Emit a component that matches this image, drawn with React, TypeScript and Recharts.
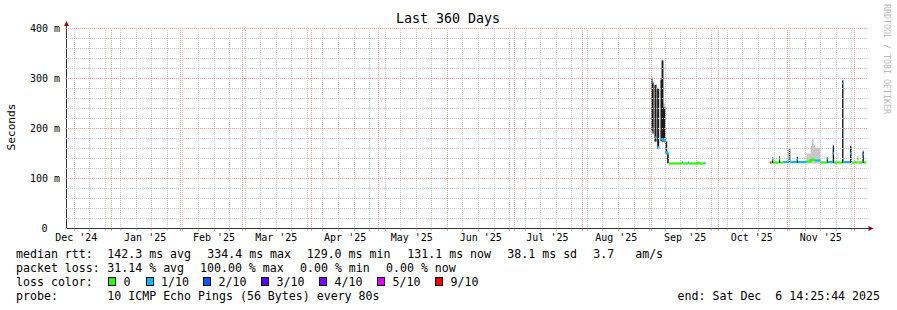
import React from 'react';
import { ComposedChart, Area, Line, XAxis, YAxis, ReferenceLine, ReferenceDot } from 'recharts';

const W = 897;
const H = 310;
const MONO = '"DejaVu Sans Mono", monospace';

// x axis in days since 2025-01-01 00:00, window = last 360 days
const rangeStart = -20.399; // Wed Dec 11 2024 14:25:44
const rangeEnd = 339.601; // Sat Dec  6 2025 14:25:44

const monthStarts = [0, 31, 59, 90, 120, 151, 181, 212, 243, 273, 304, 334];
const monthLabelDays = [-16, 15, 46, 74, 105, 135, 166, 196, 227, 258, 288, 319];
const monthLabels = ["Dec '24", "Jan '25", "Feb '25", "Mar '25", "Apr '25", "May '25", "Jun '25", "Jul '25", "Aug '25", "Sep '25", "Oct '25", "Nov '25"];
const firstSunday = -17;

const yTicks = [0, 20, 40, 60, 80, 100, 120, 140, 160, 180, 200, 220, 240, 260, 280, 300, 320, 340, 360, 380, 400];
const yMajor = [0, 100, 200, 300, 400];
const yMajorLabels = ['0', '100 m', '200 m', '300 m', '400 m'];

// rtt in ms, stepped samples (null = no data)
const days = [
  242.8, 243.3, 243.8, 244.2, 245.1, 245.4, 246.3, 246.9, 247.4, 248.2, 249.1, 249.9, 250.6, 256.6, 257.1, 259.2, 259.7, 263.5, 264.4, 266.7,
  267.1, 267.2,
  296.1, 296.6, 297.1, 297.6, 300.2, 300.7, 302.2, 304.6, 305.3, 308.2, 308.8, 312.6, 314.5, 315.0, 315.8, 316.5, 318.9, 321.7, 322.2, 324.4,
  325.0, 328.6, 329.2, 332.2, 332.9, 335.5, 336.0, 337.8, 338.4, 339.6,
];
const medianRtt = [
  292, 200, null, 182, null, 163, null, 178, 178, 177, 153, 150, 130, 132, 130, 132, 130, 131, 130, 131,
  130, null,
  132, 132, 138, 132, 140, 132, 133, 140, 133, 138, 133, 134, 137, 138, 137, 136, 132, 140, 133, 150,
  132, 290, 133, 150, 132, 140, 132, 148, 132, 132,
];
const lossCount = [
  1, 1, 0, 1, 0, 1, 0, 1, 1, 1, 1, 1, 0, 1, 0, 1, 0, 0, 0, 1,
  0, 0,
  9, 0, 1, 0, 0, 0, 1, 1, 1, 1, 1, 0, 0, 0, 0, 1, 0, 0, 1, 1,
  0, 1, 1, 1, 0, 0, 0, 1, 0, 0,
];
const smokeLow = [
  190, 186, null, 172, null, 158, null, 172, 172, 172, 148, 129, 128, 128, 128, 128, 128, 128, 128, 128,
  128, null,
  130, 130, 130, 130, 130, 130, 130, 130, 130, 130, 130, 130, 130, 130, 130, 130, 130, 130, 130, 130,
  130, 130, 130, 130, 130, 130, 130, 130, 130, 130,
];
const smokeHigh = [
  304, 294, null, 289, null, 282, null, 300, 338, 250, 176, 152, 132, 133, 132, 133, 132, 135, 132, 133,
  132, null,
  134, 134, 143, 134, 145, 134, 135, 160, 135, 144, 135, 150, 165, 178, 168, 162, 134, 143, 135, 168,
  134, 298, 135, 167, 134, 146, 134, 156, 134, 134,
];
const darkLow = [
  195, 190, null, 174, null, 160, null, 175, 174, 174, 150, 131, null, null, null, null, null, null, null, null,
  null, null,
  null, null, 131, null, 131, null, null, 131, null, 131, null, null, null, null, null, null, null, 131, null, 131,
  null, 131, null, 131, null, null, null, 131, null, null,
];
const darkHigh = [
  300, 292, null, 287, null, 280, null, 298, 336, 242, 174, 150, null, null, null, null, null, null, null, null,
  null, null,
  null, null, 142, null, 144, null, null, 158, null, 143, null, null, null, null, null, null, null, 142, null, 166,
  null, 296, null, 165, null, null, null, 154, null, null,
];

const lossColors: Record<number, string> = {
  0: '#26ff00', 1: '#00b8ff', 2: '#0059ff', 3: '#5e00ff', 4: '#7e00ff', 5: '#dd00ff', 9: '#ff0000',
};
const lossKeys = [0, 1, 2, 3, 4, 5, 9];
const lossLegend = ['0', '1/10', '2/10', '3/10', '4/10', '5/10', '9/10'];

const rttStats = ['142.3 ms avg', '334.4 ms max', '129.0 ms min', '131.1 ms now', '38.1 ms sd', '3.7   am/s'];
const lossStats = ['31.14 % avg', '100.00 % max', '0.00 % min', '0.00 % now'];
const probeText = '10 ICMP Echo Pings (56 Bytes) every 80s';
const endText = 'end: Sat Dec  6 14:25:44 2025';

const rttStatX = [107.3, 207.3, 306.7, 407.3, 507.3, 593.3];
const lossStatX = [107.3, 200, 300, 386];
const lossBoxX = [108.5, 146, 203.5, 261.5, 319.5, 377.5, 435.5];

const AXIS = '#333';
const ARROW = '#8b1010';
const GRID = '#c8c8c8';
const MGRID = '#f49a9a';

function pair(lo: number | null, hi: number | null) {
  return lo == null || hi == null ? null : [lo, hi];
}

function buildRows() {
  const rows: Record<string, any>[] = [];
  const empty = () => {
    const r: Record<string, any> = {};
    lossKeys.forEach((k) => (r['m' + k] = null));
    return r;
  };
  const closing = (d: number, i: number) => {
    const a = empty();
    a.d = d;
    a['m' + lossCount[i - 1]] = medianRtt[i - 1];
    a.smoke = pair(smokeLow[i - 1], smokeHigh[i - 1]);
    a.dark = pair(darkLow[i - 1], darkHigh[i - 1]);
    return a;
  };
  days.forEach((d, i) => {
    const smoke = pair(smokeLow[i], smokeHigh[i]);
    const dark = pair(darkLow[i], darkHigh[i]);
    const prev = i > 0 ? medianRtt[i - 1] : null;
    const cur = medianRtt[i];
    if (prev != null && cur != null && (lossCount[i] !== lossCount[i - 1] || Math.abs(cur - prev) > 4)) {
      // close the previous step, then break the median line
      rows.push(closing(d, i));
      const n = empty();
      n.d = d;
      n.smoke = smoke;
      n.dark = dark;
      rows.push(n);
    } else if (prev != null && cur == null) {
      rows.push(closing(d, i));
    }
    const r = empty();
    r.d = d;
    r.smoke = smoke;
    r.dark = dark;
    if (cur != null) r['m' + lossCount[i]] = cur;
    rows.push(r);
  });
  return rows;
}

const rows = buildRows();
const weekLines = Array.from({ length: 51 }, (_, k) => firstSunday + 7 * k);
const markTicks = [...weekLines, ...monthStarts].sort((a, b) => a - b);
const minorY = yTicks.filter((v) => !yMajor.includes(v));

function MarkTick(p: any) {
  const major = monthStarts.includes(p.payload.value);
  return (
    <line x1={p.x} x2={p.x} y1={p.y} y2={p.y + 2} stroke={major ? MGRID : GRID} shapeRendering="crispEdges" />
  );
}

function LabelTick(p: any) {
  const idx = monthLabelDays.indexOf(p.payload.value);
  return (
    <text x={p.x} y={p.y + 7.5} textAnchor="middle" fontFamily={MONO} fontSize={10} fill="#000" style={{ whiteSpace: 'pre' }}>
      {monthLabels[idx]}
    </text>
  );
}

function YTick(p: any) {
  const v = p.payload.value;
  const mi = yMajor.indexOf(v);
  return (
    <g>
      <line x1={p.x - 2} x2={p.x} y1={p.y} y2={p.y} stroke={mi >= 0 ? MGRID : GRID} shapeRendering="crispEdges" />
      {mi >= 0 && (
        <text x={v === 0 ? p.x - 19 : p.x - 6.5} y={p.y + 3.5} textAnchor="end" fontFamily={MONO} fontSize={10} fill="#000">
          {yMajorLabels[mi]}
        </text>
      )}
    </g>
  );
}

function UpArrow(p: any) {
  return (
    <g>
      <line x1={p.cx} x2={p.cx} y1={p.cy} y2={p.cy - 3} stroke={AXIS} shapeRendering="crispEdges" />
      <path d={`M${p.cx - 2.5},${p.cy - 2.5} L${p.cx + 2.5},${p.cy - 2.5} L${p.cx},${p.cy - 7.5} Z`} fill={ARROW} />
    </g>
  );
}

function RightArrow(p: any) {
  return (
    <g>
      <line x1={p.cx} x2={p.cx + 2} y1={p.cy} y2={p.cy} stroke={AXIS} shapeRendering="crispEdges" />
      <path d={`M${p.cx + 2},${p.cy - 2.5} L${p.cx + 2},${p.cy + 2.5} L${p.cx + 7},${p.cy} Z`} fill={ARROW} />
    </g>
  );
}

function Texts() {
  const t = { fontFamily: MONO, fill: '#000', style: { whiteSpace: 'pre' as const } };
  return (
    <svg width={W} height={H} style={{ position: 'absolute', left: 0, top: 0, pointerEvents: 'none' }}>
      <text x={448} y={23.3} fontSize={13.3} textAnchor="middle" {...t}>Last 360 Days</text>
      <text transform="translate(14.7,127) rotate(-90)" fontSize={11.2} textAnchor="middle" {...t}>Seconds</text>
      <text transform="translate(884,4) rotate(90)" fontSize={8.3} fontFamily={MONO} fill="#bbbbbb" style={{ whiteSpace: 'pre' }}>
        RRDTOOL / TOBI OETIKER
      </text>

      <text x={16} y={258.3} fontSize={11.6} {...t}>median rtt:</text>
      {rttStats.map((s, i) => (
        <text key={'r' + i} x={rttStatX[i]} y={258.3} fontSize={11.6} {...t}>{s}</text>
      ))}
      <text x={16} y={272.3} fontSize={11.6} {...t}>packet loss:</text>
      {lossStats.map((s, i) => (
        <text key={'l' + i} x={lossStatX[i]} y={272.3} fontSize={11.6} {...t}>{s}</text>
      ))}
      <text x={16} y={286.3} fontSize={11.6} {...t}>loss color:</text>
      {lossKeys.map((k, i) => (
        <g key={'b' + k}>
          <rect x={lossBoxX[i]} y={277.5} width={7} height={8} fill={lossColors[k]} stroke="#000" shapeRendering="crispEdges" />
          <text x={lossBoxX[i] + 15} y={286.3} fontSize={11.6} {...t}>{lossLegend[i]}</text>
        </g>
      ))}
      <text x={16} y={300} fontSize={11.6} {...t}>probe:</text>
      <text x={107.3} y={300} fontSize={11.6} {...t}>{probeText}</text>
      <text x={880} y={300} fontSize={11.6} textAnchor="end" {...t}>{endText}</text>
    </svg>
  );
}

export default function App() {
  const gridProps = { strokeDasharray: '1 1', strokeDashoffset: 0.5, shapeRendering: 'crispEdges' };
  return (
    <div style={{ position: 'absolute', left: 0, top: 0, width: W, height: H, background: '#fff' }}>
      <ComposedChart width={W} height={H} data={rows} margin={{ top: 28.5, right: 30.5, bottom: 56.5, left: 10.5 }}>
        <XAxis
          dataKey="d"
          type="number"
          domain={[rangeStart, rangeEnd]}
          allowDataOverflow
          ticks={markTicks}
          interval={0}
          tickLine={false}
          tickSize={0}
          tickMargin={0}
          tick={MarkTick}
          axisLine={{ stroke: AXIS, shapeRendering: 'crispEdges' }}
          height={5}
        />
        <XAxis
          xAxisId="lab"
          dataKey="d"
          type="number"
          domain={[rangeStart, rangeEnd]}
          allowDataOverflow
          ticks={monthLabelDays}
          interval={0}
          tickLine={false}
          tickSize={0}
          tickMargin={0}
          axisLine={false}
          tick={LabelTick}
          height={20}
        />
        <YAxis
          type="number"
          domain={[0, 400]}
          allowDataOverflow
          ticks={yTicks}
          interval={0}
          width={56}
          tickLine={false}
          tickSize={0}
          tickMargin={0}
          tick={YTick}
          axisLine={{ stroke: AXIS, shapeRendering: 'crispEdges' }}
        />

        {minorY.map((v) => (
          <ReferenceLine key={'hy' + v} y={v} stroke={GRID} {...gridProps} />
        ))}
        {weekLines.map((v) => (
          <ReferenceLine key={'vx' + v} x={v} stroke={GRID} {...gridProps} />
        ))}
        {yMajor.filter((v) => v > 0).map((v) => (
          <ReferenceLine key={'my' + v} y={v} stroke={MGRID} {...gridProps} />
        ))}
        {monthStarts.map((v) => (
          <ReferenceLine key={'mx' + v} x={v} stroke={MGRID} {...gridProps} />
        ))}

        <Area dataKey="smoke" type="stepAfter" stroke="none" fill="#c8c8c8" fillOpacity={1} isAnimationActive={false} />
        <Area dataKey="dark" type="stepAfter" stroke="none" fill="#1c1c1c" fillOpacity={1} isAnimationActive={false} />
        {lossKeys.map((k) => (
          <Line
            key={'m' + k}
            dataKey={'m' + k}
            type="stepAfter"
            stroke={lossColors[k]}
            strokeWidth={2}
            dot={false}
            activeDot={false}
            isAnimationActive={false}
          />
        ))}

        <ReferenceDot x={rangeStart} y={400} r={0} ifOverflow="visible" shape={UpArrow} />
        <ReferenceDot x={rangeEnd} y={0} r={0} ifOverflow="visible" shape={RightArrow} />
      </ComposedChart>
      <Texts />
    </div>
  );
}
